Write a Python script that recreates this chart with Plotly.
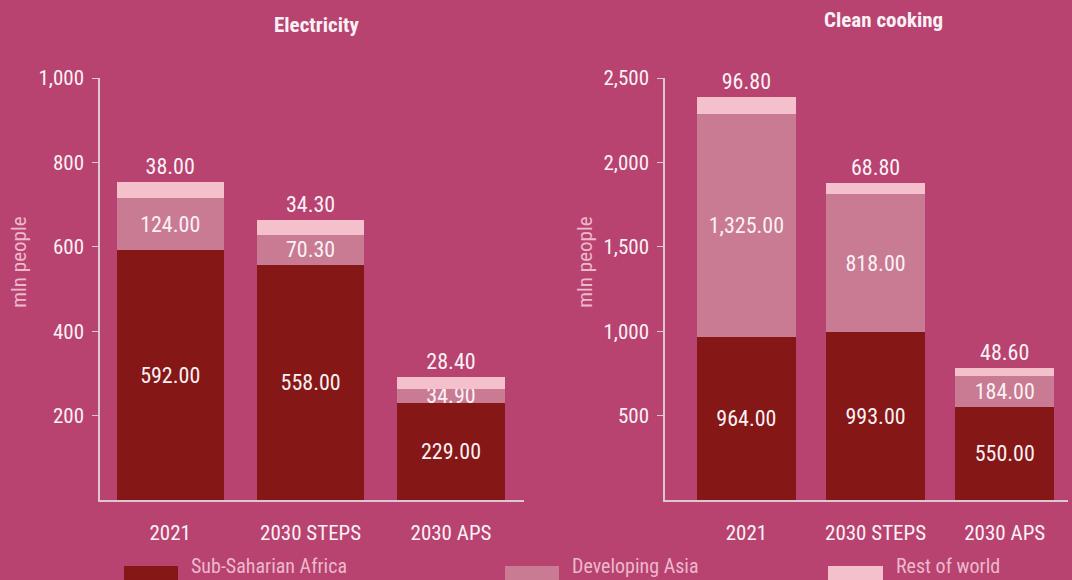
import plotly.graph_objects as go

# Access gaps by region and scenario (million people)
categories = ["2021", "2030 STEPS", "2030 APS"]
series_names = ["Sub-Saharian Africa", "Developing Asia", "Rest of world"]

electricity_ssa = [592.0, 558.0, 229.0]
electricity_asia = [124.0, 70.3, 34.9]
electricity_row = [38.0, 34.3, 28.4]

cooking_ssa = [964.0, 993.0, 550.0]
cooking_asia = [1325.0, 818.0, 184.0]
cooking_row = [96.8, 68.8, 48.6]

elec_ticks = [200, 400, 600, 800, 1000]
cook_ticks = [500, 1000, 1500, 2000, 2500]

# Styling
W, H = 1072, 580
BG = "#B84270"
COLORS = ["#851716", "#C87B92", "#F4C0CB"]
FONT = "Roboto Condensed, Liberation Sans Narrow, Roboto, sans-serif"
TEXT = "#FBF1F5"
SOFT = "#EDB8CB"
AXIS_LINE = "#D9C9D0"

PLOT_TOP, PLOT_BOTTOM = 77.5, 500.0
PLOT_H = PLOT_BOTTOM - PLOT_TOP


def py(px):
    """Pixel row -> paper y."""
    return (PLOT_BOTTOM - px) / PLOT_H


def px_x(px):
    return px / W


fig = go.Figure()

panels = [
    ("x", "y", [electricity_ssa, electricity_asia, electricity_row]),
    ("x2", "y2", [cooking_ssa, cooking_asia, cooking_row]),
]
for xa, ya, stack in panels:
    for i, (name, vals) in enumerate(zip(series_names, stack)):
        top = i == len(stack) - 1
        fig.add_trace(go.Bar(
            x=categories, y=vals, name=name, xaxis=xa, yaxis=ya,
            marker=dict(color=COLORS[i], line=dict(width=0)),
            texttemplate="%{y:,.2f}",
            textposition="outside" if top else "inside",
            insidetextanchor="middle",
            textangle=0,
            textfont=dict(family=FONT, size=22, color=TEXT),
            cliponaxis=False,
            showlegend=False,
            hoverinfo="skip",
        ))

axis_common = dict(
    showgrid=False, zeroline=False, showline=True, linecolor=AXIS_LINE,
    linewidth=1.5, tickfont=dict(family=FONT, size=21, color=TEXT),
    fixedrange=True,
)

fig.update_layout(
    width=W, height=H,
    paper_bgcolor=BG, plot_bgcolor=BG,
    margin=dict(l=0, r=0, t=PLOT_TOP, b=H - PLOT_BOTTOM, pad=0),
    barmode="stack", bargap=0.235,
    uniformtext=dict(mode="show", minsize=22),
    font=dict(family=FONT, color=TEXT),
    xaxis=dict(axis_common, domain=[px_x(100), px_x(524)],
               range=[-0.5, 2.52], type="category", ticks="",
               ticklabelstandoff=13, anchor="y"),
    yaxis=dict(axis_common, range=[0, 1000], tickvals=elec_ticks,
               tickformat=",", ticks="outside", ticklen=6,
               tickcolor=AXIS_LINE, anchor="x", ticklabelstandoff=4),
    xaxis2=dict(axis_common, domain=[px_x(665), px_x(1068)],
                range=[-0.63, 2.49], type="category", ticks="",
                ticklabelstandoff=13, anchor="y2"),
    yaxis2=dict(axis_common, range=[0, 2500], tickvals=cook_ticks,
                tickformat=",", ticks="outside", ticklen=6,
                tickcolor=AXIS_LINE, anchor="x2", ticklabelstandoff=4),
    showlegend=False,
)

annotations = [
    dict(text="<b>Electricity</b>", x=px_x(316), y=py(24)),
    dict(text="<b>Clean cooking</b>", x=px_x(883), y=py(19)),
]
for a in annotations:
    a.update(xref="paper", yref="paper", showarrow=False,
             xanchor="center", yanchor="middle",
             font=dict(family=FONT, size=21, color=TEXT))

for xc in (19.5, 585.5):
    annotations.append(dict(
        text="mln people", x=px_x(xc), y=py(262), xref="paper", yref="paper",
        showarrow=False, textangle=-90, xanchor="center", yanchor="middle",
        font=dict(family=FONT, size=21, color=SOFT)))

# Legend drawn below the panels
legend_swatches = [(124, 178), (505, 559), (828, 883)]
shapes = []
for (x0, x1), name, color in zip(legend_swatches, series_names, COLORS):
    shapes.append(dict(type="rect", xref="paper", yref="paper",
                       x0=px_x(x0), x1=px_x(x1), y0=py(566), y1=py(581),
                       fillcolor=color, line=dict(width=0)))
    annotations.append(dict(
        text=name, x=px_x(x1 + 11), y=py(566), xref="paper", yref="paper",
        showarrow=False, xanchor="left", yanchor="middle",
        font=dict(family=FONT, size=20, color=SOFT)))

fig.update_layout(annotations=annotations, shapes=shapes)

fig.write_html("out.html")
